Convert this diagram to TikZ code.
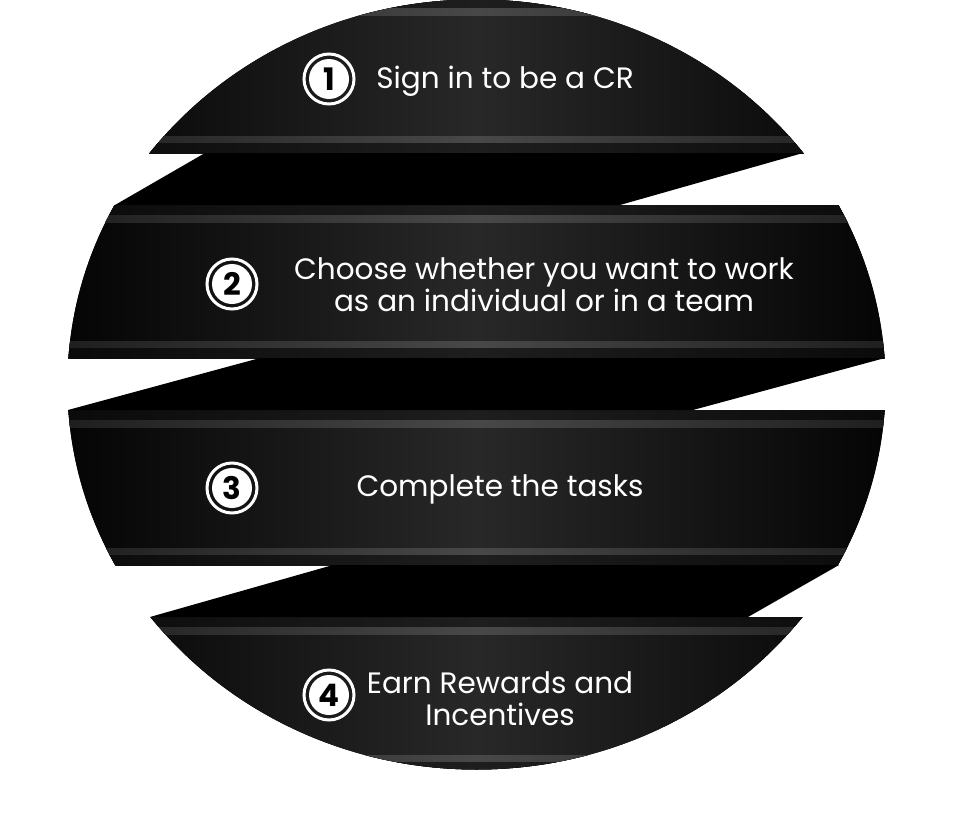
\documentclass[tikz,border=0pt]{standalone}
\usepackage{fontspec}
\setmainfont{Poppins}
\definecolor{bandmid}{HTML}{282828}
\definecolor{bandedge}{HTML}{040404}
\definecolor{rimmid}{HTML}{1E1E1E}
\definecolor{rimedge}{HTML}{0A0A0A}
\definecolor{stripemid}{HTML}{484848}
\definecolor{stripeedge}{HTML}{1E1E1E}
\newcommand\bandslice[2]{%
  \fill[bandbody] (60,#1) rectangle (895,#2);
  \fill[bandrim] (60,#1) rectangle (895,{#1+10});
  \fill[bandstripe] (60,{#1+10}) rectangle (895,{#1+17});
  \fill[bandstripe] (60,{#2-17}) rectangle (895,{#2-10});
  \fill[bandrim] (60,{#2-10}) rectangle (895,#2);
}
\begin{document}
\begin{tikzpicture}[x=1pt,y=-1pt,
  bandbody/.style={left color=bandedge,right color=bandedge,middle color=bandmid},
  bandrim/.style={left color=rimedge,right color=rimedge,middle color=rimmid},
  bandstripe/.style={left color=stripeedge,right color=stripeedge,middle color=stripemid},
  gapwedge/.style={fill=black},
  steptext/.style={text=white,font=\fontsize{29.5}{32}\selectfont,align=center,inner sep=0pt},
  numring/.style={circle,draw=white,line width=3pt,minimum size=50pt,inner sep=0pt},
  numdisk/.style={circle,fill=white,minimum size=40pt,inner sep=0pt,text=black,font=\bfseries\fontsize{31}{31}\selectfont}]
\useasboundingbox (0,0) rectangle (954,835);
\fill[white] (0,0) rectangle (954,835);
\begin{scope}
  \clip (476.5,384.5) ellipse [x radius=409, y radius=385];
  \bandslice{-2}{153}
  \bandslice{205}{358}
  \bandslice{410}{565}
  \bandslice{617}{772}
\end{scope}
\fill[gapwedge] (205,153) -- (803,153) -- (620,205) -- (115,205) -- cycle;
\fill[gapwedge] (260,358) -- (885,358) -- (693,410) -- (68,410) -- cycle;
\fill[gapwedge] (333,565) -- (839,565) -- (748,617) -- (150,617) -- cycle;
% numbers
\node[numring] (r1) at (329,79) {};
\node[numdisk] (d1) at (r1) {1};
\node[numring] (r2) at (232,284) {};
\node[numdisk] (d2) at (r2) {2};
\node[numring] (r3) at (232,488) {};
\node[numdisk] (d3) at (r3) {3};
\node[numring] (r4) at (329,695) {};
\node[numdisk] (d4) at (r4) {4};
% texts
\node[steptext,anchor=base] (t1) at (505,88) {Sign in to be a CR};
\node[steptext,anchor=north] (t2) at (544,257) {Choose whether you want to work\\as an individual or in a team};
\node[steptext,anchor=base] (t3) at (500,496) {Complete the tasks};
\node[steptext,anchor=north] (t4) at (500,671) {Earn Rewards and\\Incentives};
\end{tikzpicture}
\end{document}
